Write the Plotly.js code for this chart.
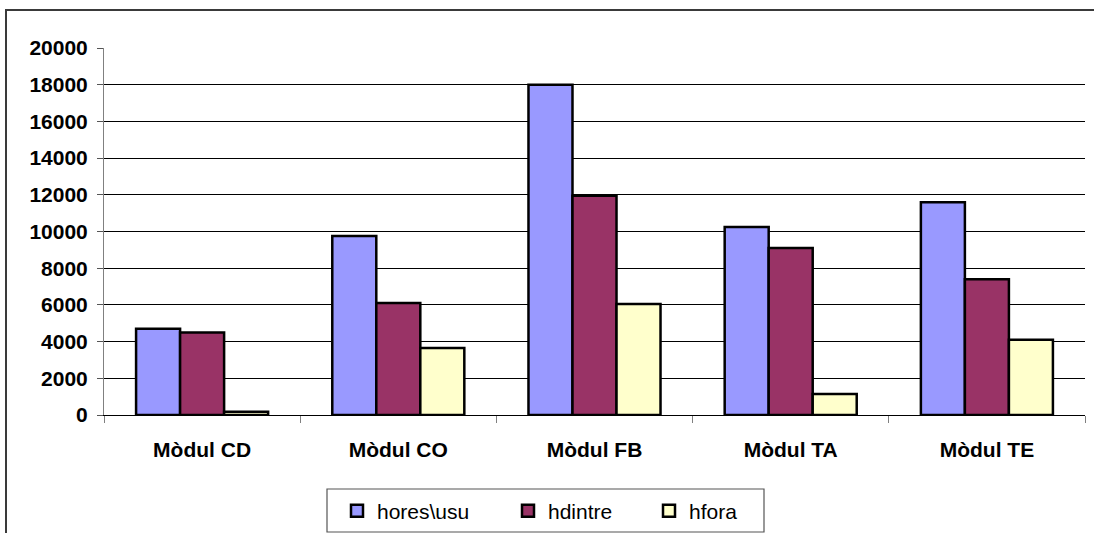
<!DOCTYPE html>
<html>
<head>
<meta charset="utf-8">
<script src="https://cdn.plot.ly/plotly-3.0.1.min.js"></script>
<style>
html,body{margin:0;padding:0;background:#fff;overflow:hidden;width:1094px;height:533px;}
#wrap{position:absolute;left:0;top:0;width:1094px;height:533px;overflow:hidden;}
#chart{position:absolute;left:0;top:0;width:1094px;height:533px;}
#frame{position:absolute;left:5px;top:9px;width:1200px;height:700px;border-top:2px solid #3a3a3a;border-left:2px solid #3a3a3a;pointer-events:none;}
</style>
</head>
<body>
<div id="wrap"><div id="chart"></div><div id="frame"></div></div>
<script>
const categories = ["Mòdul CD", "Mòdul CO", "Mòdul FB", "Mòdul TA", "Mòdul TE"];
const seriesNames = ["hores\\usu", "hdintre", "hfora"];
const horesUsu = [4700, 9750, 18000, 10250, 11600];
const hdintre = [4500, 6100, 11950, 9100, 7400];
const hfora = [180, 3650, 6050, 1150, 4100];
const yTickVals = [0, 2000, 4000, 6000, 8000, 10000, 12000, 14000, 16000, 18000, 20000];

const colors = ["#9999FF", "#993366", "#FFFFCC"];
const values = [horesUsu, hdintre, hfora];
const legendIds = ["legend", "legend2", "legend3"];

const traces = values.map((v, i) => ({
  type: "bar",
  name: seriesNames[i],
  x: categories,
  y: v,
  legend: legendIds[i],
  marker: {color: colors[i], line: {color: "#000", width: 2.5}},
  hoverinfo: "x+y+name"
}));

// plot area: x 104..1085, y 48..415
const W = 1094, H = 533;
const L = 104, R = 1085, T = 48, B = 415;
const px = x => (x - L) / (R - L);
const py = y => (B - y) / (B - T);

const FONT = "Liberation Sans, Arial, sans-serif";
const legendFont = {family: FONT, size: 21, color: "#000"};
function legendAt(x) {
  return {
    x: x / W, xref: "container", xanchor: "left",
    y: 1 - 511 / H, yref: "container", yanchor: "middle",
    orientation: "h", bgcolor: "rgba(0,0,0,0)", borderwidth: 0,
    font: legendFont, itemclick: false, itemdoubleclick: false
  };
}

const layout = {
  width: W, height: H,
  margin: {l: L, r: W - R, t: T, b: H - B, pad: 0, autoexpand: false},
  paper_bgcolor: "rgba(0,0,0,0)",
  plot_bgcolor: "#fff",
  font: {family: FONT, color: "#000"},
  barmode: "group",
  bargap: 0.327,
  bargroupgap: 0,
  showlegend: true,
  legend: legendAt(337),
  legend2: legendAt(508),
  legend3: legendAt(649),
  xaxis: {
    type: "category",
    showgrid: false,
    showline: true, linecolor: "#000", linewidth: 1,
    ticks: "outside", tickson: "boundaries", ticklen: 7, tickcolor: "#808080", tickwidth: 1,
    tickfont: {family: FONT, size: 21, weight: "bold", color: "#000"},
    ticklabelstandoff: 16,
    automargin: false,
    fixedrange: true
  },
  yaxis: {
    range: [0, 20000],
    tickvals: yTickVals,
    ticktext: yTickVals.map(String),
    showgrid: true, gridcolor: "#000", gridwidth: 1,
    zeroline: false,
    showline: true, linecolor: "#808080", linewidth: 1,
    ticks: "outside", ticklen: 6, tickcolor: "#555", tickwidth: 1,
    tickfont: {family: FONT, size: 21, weight: "bold", color: "#000"},
    ticklabelstandoff: 5,
    automargin: false,
    fixedrange: true
  },
  shapes: [
    {type: "rect", xref: "paper", yref: "paper",
     x0: px(327), x1: px(764), y0: py(532), y1: py(489),
     line: {color: "#555", width: 1.2}, fillcolor: "rgba(0,0,0,0)", layer: "above"}
  ]
};

Plotly.newPlot("chart", traces, layout, {displayModeBar: false, staticPlot: true, responsive: false});
</script>
</body>
</html>
